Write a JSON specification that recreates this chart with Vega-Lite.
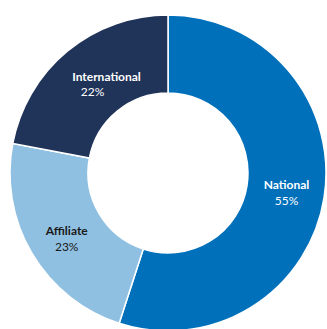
{
  "$schema": "https://vega.github.io/schema/vega-lite/v6.json",
  "width": 336,
  "height": 346,
  "padding": 0,
  "autosize": "none",
  "background": "white",
  "view": {"stroke": null},
  "data": {
    "values": [
      {"category": "National", "value": 55, "pct": "55%", "ord": 1},
      {"category": "Affiliate", "value": 23, "pct": "23%", "ord": 2},
      {"category": "International", "value": 22, "pct": "22%", "ord": 3}
    ]
  },
  "encoding": {
    "theta": {"field": "value", "type": "quantitative", "stack": true},
    "order": {"field": "ord", "type": "quantitative"}
  },
  "layer": [
    {
      "mark": {"type": "arc", "outerRadius": 158, "innerRadius": 80, "stroke": "white", "strokeWidth": 1.5},
      "encoding": {
        "color": {
          "field": "category",
          "type": "nominal",
          "scale": {"domain": ["National", "Affiliate", "International"], "range": ["#0070bb", "#90c0e1", "#203359"]},
          "legend": null
        }
      }
    },
    {
      "mark": {"type": "text", "radius": 120, "font": "Lato", "fontSize": 12, "fontWeight": "bold", "dy": -7, "color": "white"},
      "encoding": {"text": {"condition": {"test": "datum.category == 'National'", "field": "category"}, "value": ""}}
    },
    {
      "mark": {"type": "text", "radius": 120, "font": "Lato", "fontSize": 12, "dy": 9, "color": "white"},
      "encoding": {"text": {"condition": {"test": "datum.category == 'National'", "field": "pct"}, "value": ""}}
    },
    {
      "mark": {"type": "text", "radius": 120, "font": "Lato", "fontSize": 12, "fontWeight": "bold", "dy": -3, "dx": 2, "color": "#1a1a1a"},
      "encoding": {"text": {"condition": {"test": "datum.category == 'Affiliate'", "field": "category"}, "value": ""}}
    },
    {
      "mark": {"type": "text", "radius": 120, "font": "Lato", "fontSize": 12, "dy": 13, "dx": 2, "color": "#1a1a1a"},
      "encoding": {"text": {"condition": {"test": "datum.category == 'Affiliate'", "field": "pct"}, "value": ""}}
    },
    {
      "mark": {"type": "text", "radius": 120, "font": "Lato", "fontSize": 12, "fontWeight": "bold", "dy": -4, "dx": 15, "color": "white"},
      "encoding": {"text": {"condition": {"test": "datum.category == 'International'", "field": "category"}, "value": ""}}
    },
    {
      "mark": {"type": "text", "radius": 120, "font": "Lato", "fontSize": 12, "dy": 11, "dx": 1, "color": "white"},
      "encoding": {"text": {"condition": {"test": "datum.category == 'International'", "field": "pct"}, "value": ""}}
    }
  ]
}
